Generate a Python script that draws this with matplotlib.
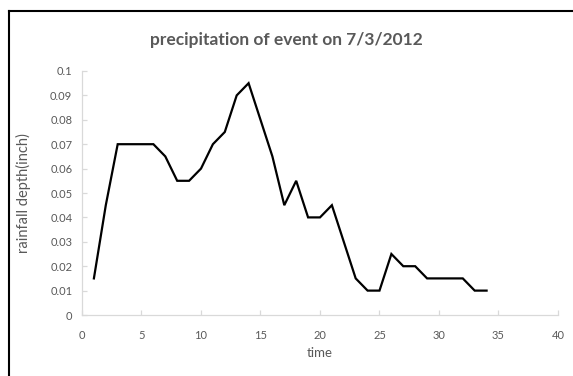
import matplotlib
matplotlib.use('Agg')
import matplotlib.pyplot as plt
from matplotlib.lines import Line2D

# dados (intervalo x chuva em polegadas)
time = list(range(1, 35))
depth = [0.015, 0.045, 0.07, 0.07, 0.07, 0.07, 0.065, 0.055, 0.055, 0.06,
         0.07, 0.075, 0.09, 0.095, 0.08, 0.065, 0.045, 0.055, 0.04, 0.04,
         0.045, 0.03, 0.015, 0.01, 0.01, 0.025, 0.02, 0.02, 0.015, 0.015,
         0.015, 0.015, 0.01, 0.01]
xticks = [0, 5, 10, 15, 20, 25, 30, 35, 40]
yticks = [0, 0.01, 0.02, 0.03, 0.04, 0.05, 0.06, 0.07, 0.08, 0.09, 0.1]
ytick_labels = ['0', '0.01', '0.02', '0.03', '0.04', '0.05', '0.06', '0.07',
                '0.08', '0.09', '0.1']

plt.rcParams['font.family'] = ['Lato', 'DejaVu Sans']
GRAY = '#595959'
AXIS = '#d9d9d9'

fig = plt.figure(figsize=(5.73, 3.76), dpi=100)
ax = fig.add_axes([0.1431, 0.1622, 0.8307, 0.649])

ax.plot(time, depth, color='black', lw=1.6, solid_joinstyle='miter')
ax.set_xlim(0, 40)
ax.set_ylim(0, 0.1)
ax.set_xticks(xticks)
ax.set_yticks(yticks)
ax.set_yticklabels(ytick_labels)

for s in ['top', 'right']:
    ax.spines[s].set_visible(False)
for s in ['left', 'bottom']:
    ax.spines[s].set_color(AXIS)
    ax.spines[s].set_linewidth(0.9)
ax.tick_params(axis='both', direction='in', length=3.5, width=0.9,
               color=AXIS, labelcolor=GRAY, labelsize=8)
ax.tick_params(axis='x', pad=11)
ax.tick_params(axis='y', pad=7)

ax.set_xlabel('time', color=GRAY, fontsize=9.5, labelpad=4)
ax.set_ylabel('rainfall depth(inch)', color=GRAY, fontsize=10.5, labelpad=14)
fig.text(0.5, 1 - 40 / 376, 'precipitation of event on 7/3/2012',
         ha='center', va='center', color=GRAY, fontsize=12.5, fontweight='bold')

# moldura recortada da captura (so esquerda e topo)
fig.add_artist(Line2D([9 / 573, 9 / 573], [0, 1 - 11 / 376],
                      transform=fig.transFigure, color='black', lw=1.5))
fig.add_artist(Line2D([9 / 573, 1], [1 - 11 / 376, 1 - 11 / 376],
                      transform=fig.transFigure, color='black', lw=1.5))

fig.savefig('out.png', dpi=100)
